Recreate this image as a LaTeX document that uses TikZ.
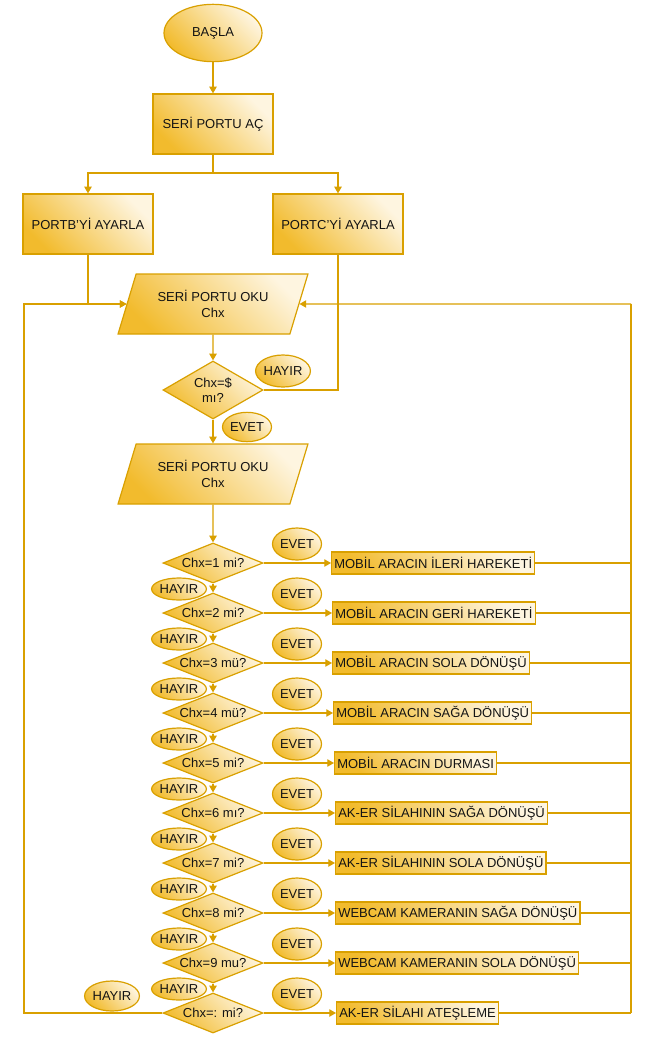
\documentclass[tikz,border=0pt]{standalone}
\usepackage{fontspec}
\setmainfont{Liberation Sans}
\usetikzlibrary{shapes.geometric,arrows.meta}
\definecolor{gline}{RGB}{217,160,0}
\definecolor{gdark}{RGB}{242,187,45}
\definecolor{glight}{RGB}{254,245,224}
\definecolor{txt}{RGB}{20,20,20}
\begin{document}
\begin{tikzpicture}[x=0.75pt,y=-0.75pt,
  every node/.style={font=\fontsize{9.75}{11.5}\selectfont, text=txt},
  gold/.style={draw=gline, line width=0.9pt, top color=glight, bottom color=gdark, shading angle=-45},
  terminal/.style={gold, ellipse, minimum width=73.5pt, minimum height=43pt, inner sep=0pt},
  procbox/.style={gold, rectangle, minimum width=90pt, minimum height=45pt, inner sep=0pt},
  iobox/.style={gold, trapezium, trapezium left angle=64, trapezium right angle=116, trapezium stretches=true, minimum width=142.5pt, minimum height=45pt, inner sep=0pt, align=center},
  decision/.style={gold, diamond, aspect=3, minimum width=75pt, minimum height=30pt, inner sep=0pt, align=center},
  actbox/.style={gold, rectangle, anchor=west, minimum height=16.5pt, inner xsep=2pt, inner ysep=0pt},
  yesno/.style={gold, ellipse, minimum width=36.75pt, minimum height=24pt, inner sep=0pt},
  nolab/.style={gold, ellipse, minimum width=36pt, minimum height=16.5pt, inner sep=0pt},
  conn/.style={draw=gline, line width=0.9pt},
  arr/.style={conn, -{Triangle[length=5pt,width=5.5pt]}}
]
\path[use as bounding box, fill=white] (0,0) rectangle (651,1045);

\node[terminal] (start) at (213,33) {BAŞLA};
\node[procbox] (open) at (213,124) {SERİ PORTU AÇ};
\node[procbox, minimum width=97.5pt] (pb) at (88,224) {PORTB'Yİ AYARLA};
\node[procbox, minimum width=97.5pt] (pc) at (338,224) {PORTC'Yİ AYARLA};
\node[iobox] (read1) at (213,304) {SERİ PORTU OKU\\Chx};
\node[decision, aspect=1.7, minimum height=43.5pt] (d0) at (213,390) {Chx=\$\\mı?};
\node[yesno] (h0) at (283,371) {HAYIR};
\node[yesno, minimum height=22pt] (e0) at (247,427) {EVET};
\node[iobox] (read2) at (213,474) {SERİ PORTU OKU\\Chx};

\coordinate (split) at (213,173);
\coordinate (loopL) at (24,1013);
\coordinate (railTop) at (631,304);
\coordinate (railBot) at (631,1013);

\draw[arr] (start) -- (open);
\draw[conn] (open) -- (split);
\draw[arr] (split) -| (pb);
\draw[arr] (split) -| (pc);
\draw[arr] (pb.south) |- (read1.west);
\draw[conn] (pc.south) |- (d0.east);
\draw[arr] (read1) -- (d0);
\draw[arr] (d0) -- (read2);
\draw[arr] (railTop) -- (read1.east);
\draw[conn] (railTop) -- (railBot);

\foreach \i/\q/\act/\ax in {
  1/Chx=1 mi?/MOBİL ARACIN İLERİ HAREKETİ/331,
  2/Chx=2 mi?/MOBİL ARACIN GERİ HAREKETİ/332,
  3/Chx=3 mü?/MOBİL ARACIN SOLA DÖNÜŞÜ/332,
  4/Chx=4 mü?/MOBİL ARACIN SAĞA DÖNÜŞÜ/333,
  5/Chx=5 mi?/MOBİL ARACIN DURMASI/334,
  6/Chx=6 mı?/AK-ER SİLAHININ SAĞA DÖNÜŞÜ/335,
  7/Chx=7 mi?/AK-ER SİLAHININ SOLA DÖNÜŞÜ/335,
  8/Chx=8 mi?/WEBCAM KAMERANIN SAĞA DÖNÜŞÜ/335,
  9/Chx=9 mu?/WEBCAM KAMERANIN SOLA DÖNÜŞÜ/335,
  10/Chx=: mi?/AK-ER SİLAHI ATEŞLEME/336}{
  \pgfmathsetmacro{\yy}{563+50*(\i-1)}
  \pgfmathsetmacro{\ye}{544+50*(\i-1)}
  \node[decision] (d\i) at (213,\yy) {\q};
  \node[actbox] (a\i) at (\ax,\yy) {\act};
  \node[yesno] (e\i) at (297,\ye) {EVET};
  \coordinate (r\i) at (631,\yy);
  \draw[arr] (d\i.east) -- (a\i.west);
  \draw[conn] (a\i.east) -- (r\i);
}
\foreach \i in {1,...,9}{
  \pgfmathsetmacro{\yh}{589+50*(\i-1)}
  \pgfmathtruncatemacro{\j}{\i+1}
  \node[nolab] (h\i) at (179,\yh) {HAYIR};
  \draw[arr] (d\i.south) -- (d\j.north);
}
\draw[arr] (read2) -- (d1);
\node[yesno, minimum height=22.5pt] (h10) at (112,996) {HAYIR};
\draw[arr] (d10.west) -- (loopL) |- (read1.west);
\end{tikzpicture}
\end{document}
